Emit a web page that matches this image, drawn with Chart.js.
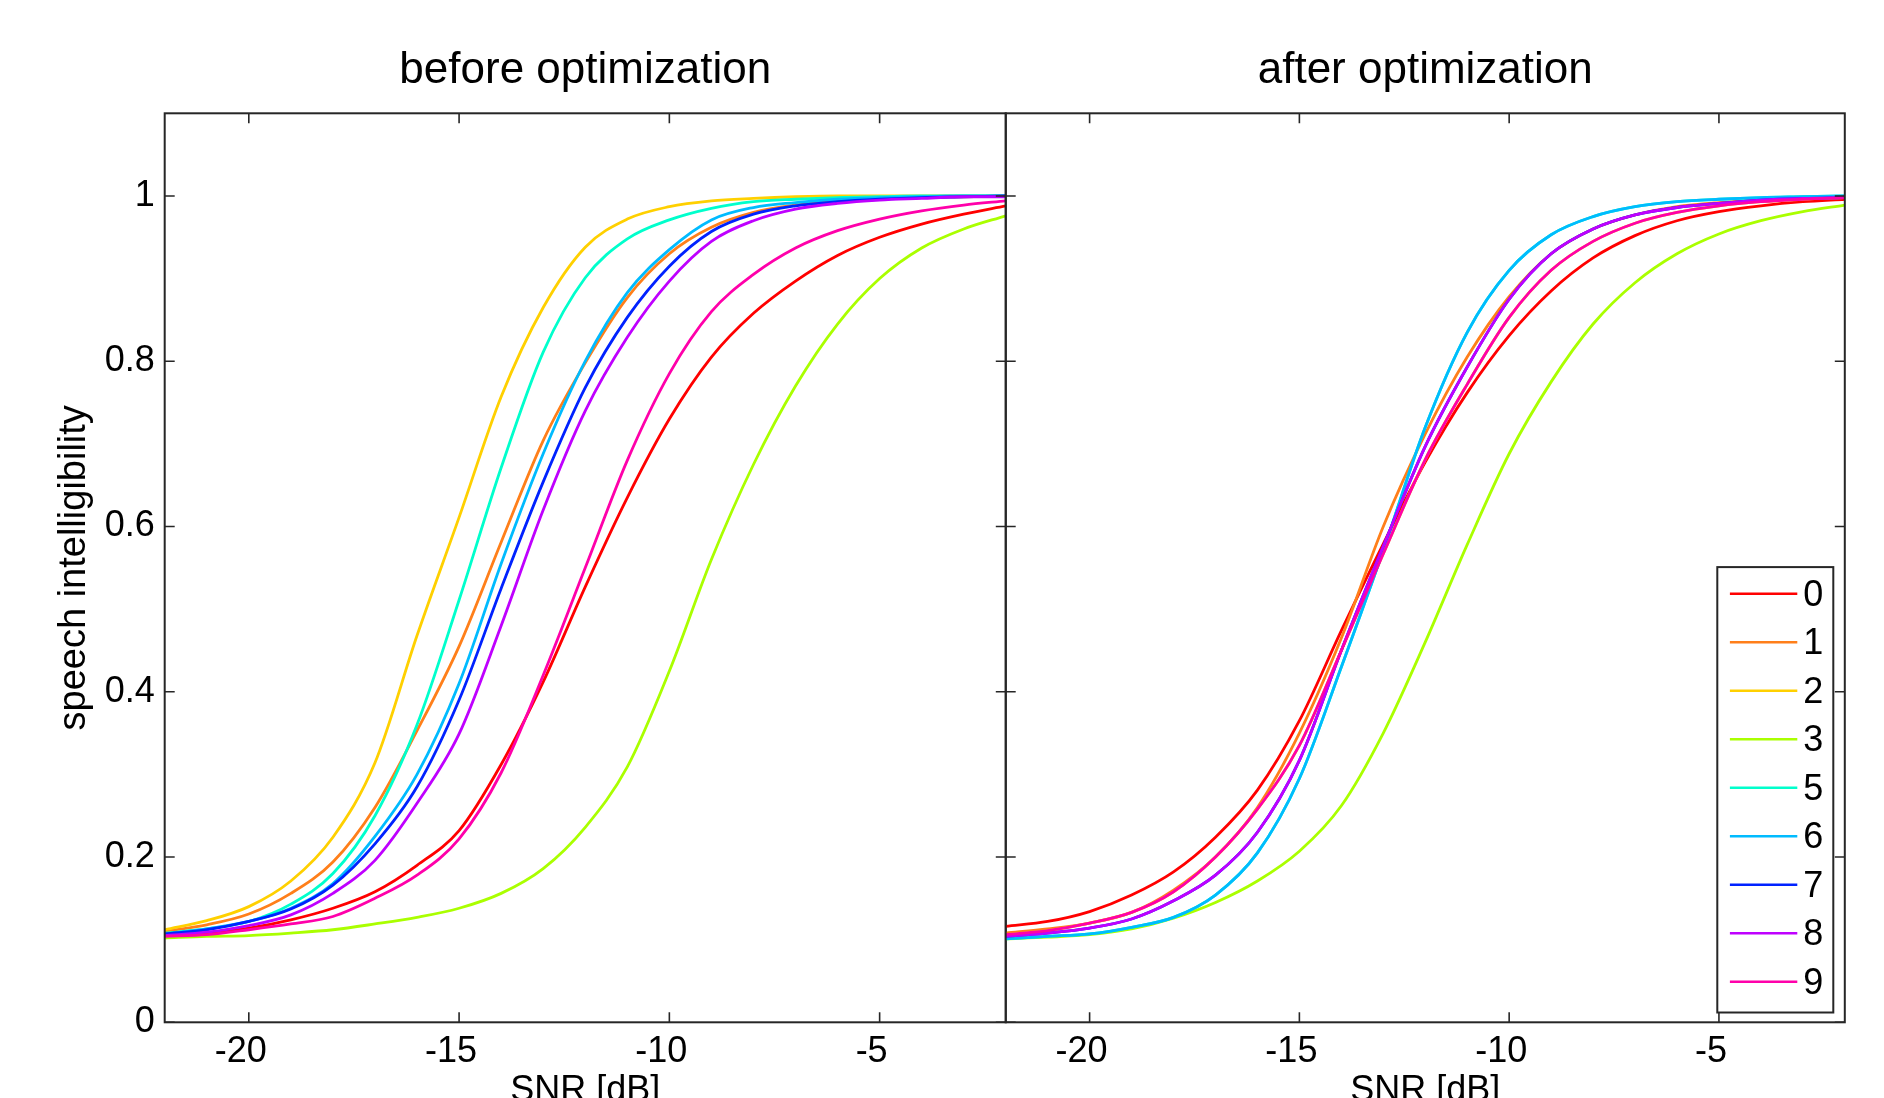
<!DOCTYPE html>
<html>
<head>
<meta charset="utf-8">
<script src="https://cdn.jsdelivr.net/npm/chart.js@4/dist/chart.umd.min.js"></script>
<style>
  html, body { margin: 0; padding: 0; background: #fff; overflow: hidden; width: 1884px; height: 1098px; }
  #wrap { position: relative; width: 1884px; height: 1098px; }
  canvas { position: absolute; left: 0; top: 0; }
</style>
</head>
<body>
<div id="wrap">
  <canvas id="before" width="1884" height="1098"></canvas>
  <canvas id="after" width="1884" height="1098"></canvas>
</div>
<script>
// ---------- data ----------
const snrDb = [-22, -21, -20, -19, -18, -17, -16, -15, -14, -13, -12, -11, -10, -9, -8, -7, -6, -5, -4, -3, -2];
const speakerLabels = ['0', '1', '2', '3', '5', '6', '7', '8', '9'];
const xTickValues = [-20, -15, -10, -5];
const xTickLabels = ['-20', '-15', '-10', '-5'];
const yTickValues = [0, 0.2, 0.4, 0.6, 0.8, 1];
const yTickLabels = ['0', '0.2', '0.4', '0.6', '0.8', '1'];

// before optimization
const before0 = [0.106, 0.108, 0.114, 0.124, 0.138, 0.158, 0.190, 0.232, 0.312, 0.412, 0.527, 0.635, 0.730, 0.805, 0.858, 0.897, 0.928, 0.950, 0.966, 0.978, 0.988];
const before1 = [0.110, 0.118, 0.131, 0.156, 0.194, 0.260, 0.353, 0.455, 0.581, 0.704, 0.798, 0.877, 0.930, 0.962, 0.980, 0.989, 0.994, 0.997, 0.998, 0.999, 1.000];
const before2 = [0.112, 0.123, 0.140, 0.171, 0.224, 0.314, 0.468, 0.611, 0.757, 0.865, 0.938, 0.972, 0.987, 0.994, 0.997, 0.999, 1.000, 1.000, 1.000, 1.000, 1.000];
const before3 = [0.102, 0.104, 0.105, 0.108, 0.112, 0.119, 0.127, 0.138, 0.156, 0.186, 0.236, 0.309, 0.425, 0.560, 0.675, 0.770, 0.845, 0.900, 0.937, 0.960, 0.976];
const before5 = [0.108, 0.113, 0.122, 0.143, 0.180, 0.250, 0.360, 0.511, 0.671, 0.811, 0.901, 0.948, 0.971, 0.985, 0.993, 0.996, 0.998, 0.999, 1.000, 1.000, 1.000];
const before6 = [0.107, 0.113, 0.122, 0.138, 0.168, 0.225, 0.300, 0.410, 0.555, 0.688, 0.800, 0.883, 0.935, 0.971, 0.986, 0.992, 0.996, 0.998, 0.999, 1.000, 1.000];
const before7 = [0.107, 0.112, 0.122, 0.137, 0.166, 0.216, 0.285, 0.390, 0.525, 0.654, 0.768, 0.853, 0.915, 0.957, 0.978, 0.988, 0.993, 0.996, 0.998, 0.999, 1.000];
const before8 = [0.105, 0.109, 0.117, 0.130, 0.156, 0.196, 0.265, 0.349, 0.480, 0.620, 0.740, 0.829, 0.897, 0.945, 0.970, 0.984, 0.991, 0.995, 0.997, 0.999, 0.999];
const before9 = [0.104, 0.106, 0.112, 0.119, 0.128, 0.150, 0.178, 0.222, 0.302, 0.420, 0.550, 0.680, 0.785, 0.860, 0.905, 0.937, 0.958, 0.972, 0.982, 0.989, 0.994];

// after optimization (2, 5 and 7 lie under 9, 6 and 8)
const after0 = [0.116, 0.122, 0.134, 0.154, 0.182, 0.224, 0.281, 0.365, 0.474, 0.579, 0.678, 0.762, 0.831, 0.885, 0.925, 0.952, 0.970, 0.981, 0.988, 0.993, 0.996];
const after1 = [0.108, 0.113, 0.120, 0.133, 0.160, 0.200, 0.260, 0.350, 0.465, 0.600, 0.712, 0.805, 0.878, 0.930, 0.960, 0.977, 0.987, 0.992, 0.995, 0.997, 0.998];
const after2 = [0.106, 0.111, 0.120, 0.133, 0.158, 0.200, 0.258, 0.335, 0.450, 0.567, 0.681, 0.772, 0.853, 0.910, 0.945, 0.967, 0.980, 0.988, 0.993, 0.996, 0.998];
const after3 = [0.101, 0.103, 0.106, 0.113, 0.126, 0.145, 0.171, 0.207, 0.262, 0.350, 0.460, 0.578, 0.688, 0.775, 0.845, 0.895, 0.930, 0.954, 0.970, 0.981, 0.989];
const after5 = [0.101, 0.104, 0.107, 0.115, 0.127, 0.154, 0.205, 0.295, 0.430, 0.571, 0.720, 0.835, 0.910, 0.953, 0.975, 0.987, 0.993, 0.996, 0.998, 0.999, 1.000];
const after6 = [0.101, 0.104, 0.107, 0.115, 0.127, 0.154, 0.205, 0.295, 0.430, 0.571, 0.720, 0.835, 0.910, 0.953, 0.975, 0.987, 0.993, 0.996, 0.998, 0.999, 1.000];
const after7 = [0.104, 0.108, 0.114, 0.125, 0.147, 0.178, 0.230, 0.317, 0.450, 0.576, 0.697, 0.793, 0.875, 0.930, 0.960, 0.977, 0.986, 0.991, 0.995, 0.997, 0.998];
const after8 = [0.104, 0.108, 0.114, 0.125, 0.147, 0.178, 0.230, 0.317, 0.450, 0.576, 0.697, 0.793, 0.875, 0.930, 0.960, 0.977, 0.986, 0.991, 0.995, 0.997, 0.998];
const after9 = [0.106, 0.111, 0.120, 0.133, 0.158, 0.200, 0.258, 0.335, 0.450, 0.567, 0.681, 0.772, 0.853, 0.910, 0.945, 0.967, 0.980, 0.988, 0.993, 0.996, 0.998];

const beforeSeries = [before0, before1, before2, before3, before5, before6, before7, before8, before9];
const afterSeries = [after0, after1, after2, after3, after5, after6, after7, after8, after9];

// ---------- styles ----------
const lineColors = ['#ff0000', '#ff7f1a', '#ffd000', '#aaff00', '#00ffcc', '#00bbff', '#0022ff', '#bf00ff', '#ff00aa'];
const FONT = '"Liberation Sans", Arial, Helvetica, sans-serif';
const AXIS_COLOR = '#262626';
Chart.defaults.font.family = FONT;
Chart.defaults.color = '#000';

function makeDatasets(series) {
  return series.map((vals, i) => ({
    label: speakerLabels[i],
    data: snrDb.map((x, j) => ({ x: x, y: vals[j] })),
    borderColor: lineColors[i],
    backgroundColor: lineColors[i],
    borderWidth: 2.8,
    pointRadius: 0,
    cubicInterpolationMode: 'monotone',
    fill: false,
    order: series.length - i,
    borderJoinStyle: 'round',
    borderCapStyle: 'round'
  }));
}

const TICK_LEN = 10;
const framePlugin = {
  id: 'matlabFrame',
  afterDatasetsDraw(chart) {
    const { ctx, chartArea: a } = chart;
    const xs = chart.scales.x, ys = chart.scales.y;
    ctx.save();
    ctx.strokeStyle = AXIS_COLOR;
    ctx.lineWidth = 1.6;
    ctx.beginPath();
    xTickValues.forEach(v => {
      const px = xs.getPixelForValue(v);
      ctx.moveTo(px, a.bottom); ctx.lineTo(px, a.bottom - TICK_LEN);
      ctx.moveTo(px, a.top); ctx.lineTo(px, a.top + TICK_LEN);
    });
    yTickValues.forEach(v => {
      const py = ys.getPixelForValue(v);
      ctx.moveTo(a.left, py); ctx.lineTo(a.left + TICK_LEN, py);
      ctx.moveTo(a.right, py); ctx.lineTo(a.right - TICK_LEN, py);
    });
    ctx.stroke();
    ctx.lineWidth = 2;
    ctx.strokeRect(a.left, a.top, a.right - a.left, a.bottom - a.top);
    ctx.restore();
  }
};

const boxLegendPlugin = {
  id: 'boxLegend',
  afterDraw(chart) {
    const { ctx, chartArea: a } = chart;
    const ds = chart.data.datasets;
    const w = 116, rowH = 48.5, h = 445.4;
    const right = a.right - 11.5, bottom = a.bottom - 9.8;
    const left = right - w, top = bottom - h;
    ctx.save();
    ctx.fillStyle = '#fff';
    ctx.fillRect(left, top, w, h);
    ctx.strokeStyle = AXIS_COLOR;
    ctx.lineWidth = 2;
    ctx.strokeRect(left, top, w, h);
    ctx.font = '36px ' + FONT;
    ctx.textAlign = 'left';
    ctx.textBaseline = 'middle';
    ds.forEach((d, i) => {
      const cy = top + 26.7 + rowH * i;
      ctx.strokeStyle = d.borderColor;
      ctx.lineWidth = 2.6;
      ctx.beginPath();
      ctx.moveTo(left + 12.6, cy);
      ctx.lineTo(left + 80, cy);
      ctx.stroke();
      ctx.fillStyle = '#000';
      ctx.fillText(d.label, left + 86, cy + 2);
    });
    ctx.restore();
  }
};

function makeOptions(title, showY, padding) {
  return {
    responsive: false,
    animation: false,
    devicePixelRatio: 1,
    layout: { padding: padding },
    plugins: {
      legend: { display: false },
      tooltip: { enabled: false },
      title: {
        display: true,
        text: title,
        fullSize: false,
        color: '#000',
        font: { size: 44, weight: 'normal', family: FONT, lineHeight: 1.2 },
        padding: { top: 44.2, bottom: 16.3 }
      }
    },
    scales: {
      x: {
        type: 'linear',
        position: 'bottom',
        min: -22, max: -2,
        afterBuildTicks: s => { s.ticks = xTickValues.map(v => ({ value: v })); },
        afterFit: s => { s.height = 75.7; },
        grid: { display: false, drawTicks: false, tickLength: 0 },
        border: { display: false },
        ticks: {
          font: { size: 36, family: FONT },
          color: '#000',
          padding: 8,
          labelOffset: -8,
          maxRotation: 0,
          autoSkip: false,
          callback: (v, idx) => xTickLabels[idx]
        },
        title: {
          display: true,
          text: 'SNR [dB]',
          color: '#000',
          font: { size: 36, family: FONT, lineHeight: 1.2 },
          padding: { top: 0, bottom: -14.4 }
        }
      },
      y: {
        type: 'linear',
        display: showY,
        position: 'left',
        min: 0, max: 1.1,
        afterBuildTicks: s => { s.ticks = yTickValues.map(v => ({ value: v })); },
        afterFit: s => { if (showY) s.width = 164.7; },
        grid: { display: false, drawTicks: false, tickLength: 0 },
        border: { display: false },
        ticks: {
          font: { size: 36, family: FONT },
          color: '#000',
          padding: 10,
          autoSkip: false,
          callback: (v, idx) => yTickLabels[idx]
        },
        title: {
          display: true,
          text: 'speech intelligibility',
          color: '#000',
          font: { size: 38, family: FONT, lineHeight: 1.2 },
          padding: { top: 52.2, bottom: 0 }
        }
      }
    }
  };
}

new Chart(document.getElementById('before'), {
  type: 'line',
  data: { datasets: makeDatasets(beforeSeries) },
  options: makeOptions('before optimization', true, { left: 0, top: 0, right: 878.2, bottom: 0 }),
  plugins: [framePlugin]
});

new Chart(document.getElementById('after'), {
  type: 'line',
  data: { datasets: makeDatasets(afterSeries) },
  options: makeOptions('after optimization', false, { left: 1005.7, top: 0, right: 39.2, bottom: 0 }),
  plugins: [framePlugin, boxLegendPlugin]
});
</script>
</body>
</html>
